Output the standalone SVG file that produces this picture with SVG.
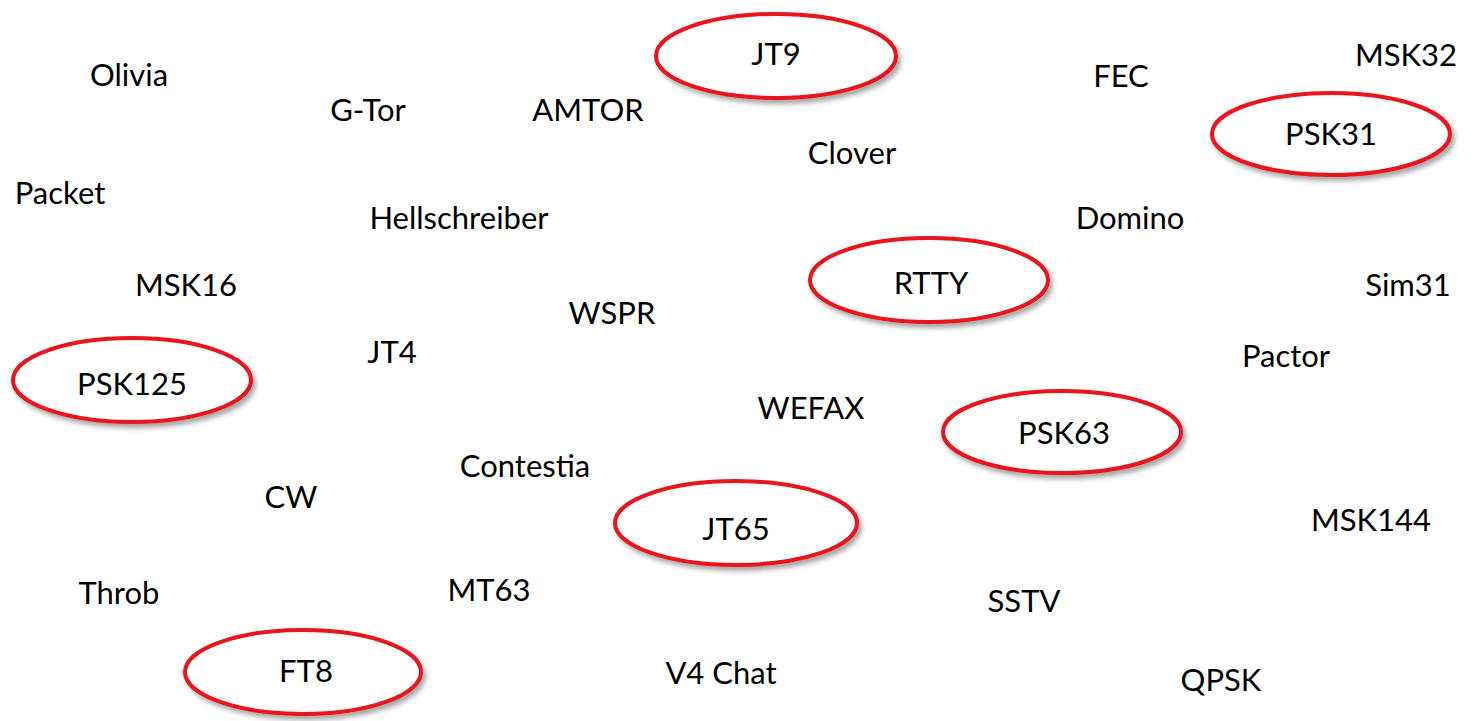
<svg xmlns="http://www.w3.org/2000/svg" width="1474" height="721" viewBox="0 0 1474 721">
<style>
text{font-family:Lato,"Open Sans","Liberation Sans",sans-serif;font-size:31px;fill:#000;text-anchor:middle}
.ring{fill:#fff;stroke:#e8141c;stroke-width:4;filter:url(#sh)}
</style>
<defs>
<filter id="sh" x="-10%" y="-20%" width="125%" height="150%">
<feDropShadow dx="3" dy="4" stdDeviation="2.5" flood-color="#000" flood-opacity="0.35"/>
</filter>
</defs>
<rect width="1474" height="721" fill="#fff"/>
<g id="connectors"/>
<g id="n-jt9"><ellipse class="ring" cx="776" cy="56" rx="120" ry="42"/><text x="776" y="65">JT9</text></g>
<g id="n-psk31"><ellipse class="ring" cx="1331" cy="134" rx="119" ry="41"/><text x="1331" y="145">PSK31</text></g>
<g id="n-rtty"><ellipse class="ring" cx="929" cy="280" rx="119" ry="42"/><text x="931" y="294">RTTY</text></g>
<g id="n-psk125"><ellipse class="ring" cx="132" cy="380" rx="119" ry="42"/><text x="132" y="395">PSK125</text></g>
<g id="n-psk63"><ellipse class="ring" cx="1062" cy="432" rx="119" ry="41"/><text x="1064" y="444">PSK63</text></g>
<g id="n-jt65"><ellipse class="ring" cx="736" cy="523" rx="121" ry="42"/><text x="736" y="540">JT65</text></g>
<g id="n-ft8"><ellipse class="ring" cx="303" cy="672" rx="118" ry="42"/><text x="306" y="682">FT8</text></g>
<g id="n-olivia"><text x="129" y="86">Olivia</text></g>
<g id="n-gtor"><text x="368" y="121">G-Tor</text></g>
<g id="n-amtor"><text x="588" y="121">AMTOR</text></g>
<g id="n-fec"><text x="1121" y="87">FEC</text></g>
<g id="n-msk32"><text x="1406" y="66">MSK32</text></g>
<g id="n-clover"><text x="852" y="164">Clover</text></g>
<g id="n-packet"><text x="60" y="204">Packet</text></g>
<g id="n-hell"><text x="459" y="229">Hellschreiber</text></g>
<g id="n-domino"><text x="1130" y="229">Domino</text></g>
<g id="n-msk16"><text x="186" y="296">MSK16</text></g>
<g id="n-sim31"><text x="1408" y="296">Sim31</text></g>
<g id="n-wspr"><text x="612" y="324">WSPR</text></g>
<g id="n-jt4"><text x="392" y="363">JT4</text></g>
<g id="n-pactor"><text x="1286" y="367">Pactor</text></g>
<g id="n-wefax"><text x="811" y="419">WEFAX</text></g>
<g id="n-contestia"><text x="525" y="477">Contestia</text></g>
<g id="n-cw"><text x="291" y="508">CW</text></g>
<g id="n-msk144"><text x="1371" y="531">MSK144</text></g>
<g id="n-throb"><text x="119" y="604">Throb</text></g>
<g id="n-mt63"><text x="489" y="601">MT63</text></g>
<g id="n-sstv"><text x="1024" y="612">SSTV</text></g>
<g id="n-v4chat"><text x="721" y="684">V4 Chat</text></g>
<g id="n-qpsk"><text x="1221" y="691">QPSK</text></g>
</svg>
